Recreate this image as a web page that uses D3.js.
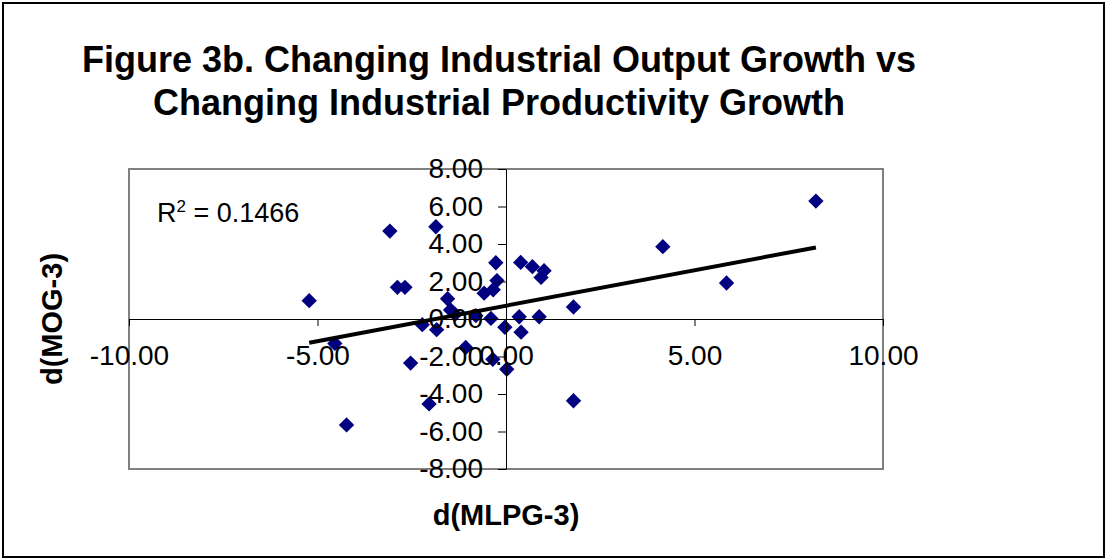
<!DOCTYPE html>
<html><head><meta charset="utf-8">
<script src="https://cdn.jsdelivr.net/npm/d3@7"></script>
<style>
body{margin:0;background:#fff}
text{font-family:"Liberation Sans",Arial,sans-serif}
</style>
</head><body>
<svg id="c" width="1107" height="559"></svg>
<script>
// ---- data ----
const xValues = [-5.22,-4.54,-4.23,-3.08,-2.88,-2.68,-2.53,-2.22,-2.04,-1.86,-1.84,-1.55,-1.47,-1.35,-1.07,-0.80,-0.58,-0.40,-0.34,-0.35,-0.27,-0.24,-0.03,0.02,0.35,0.39,0.40,0.70,0.88,0.93,1.01,1.79,1.79,4.16,5.85,8.22];
const yValues = [0.98,-1.30,-5.65,4.69,1.69,1.69,-2.35,-0.30,-4.53,4.92,-0.57,1.08,0.48,0.25,-1.52,0.18,1.38,0.03,1.56,-2.15,3.00,2.05,-0.44,-2.68,0.12,3.02,-0.70,2.79,0.12,2.22,2.58,0.64,-4.36,3.86,1.92,6.29];
const xTicks = [-10,-5,0,5,10];
const yTicks = [-8,-6,-4,-2,0,2,4,6,8];
const trendSlope = 0.378;
const trendIntercept = 0.71;
const rSquaredText = "0.1466";
const titleLines = ["Figure 3b. Changing Industrial Output Growth vs","Changing Industrial Productivity Growth"];
const xLabel = "d(MLPG-3)";
const yLabel = "d(MOG-3)";

// ---- drawing ----
const svg = d3.select("#c");
const P = {left:129, top:169, right:883, bottom:469};
const x = d3.scaleLinear().domain([-10,10]).range([P.left,P.right]);
const y = d3.scaleLinear().domain([-8,8]).range([P.bottom,P.top]);
const fmt = d => d.toFixed(2);

// outer frame
svg.append("rect").attr("x",3).attr("y",3).attr("width",1101).attr("height",554)
  .attr("fill","#fff").attr("stroke","#000").attr("stroke-width",2);

// plot area
svg.append("rect").attr("x",P.left).attr("y",P.top).attr("width",P.right-P.left).attr("height",P.bottom-P.top)
  .attr("fill","#fff").attr("stroke","#808080").attr("stroke-width",2);

// title
const title = svg.append("text").attr("text-anchor","middle")
  .attr("font-weight","bold").attr("font-size",36).attr("fill","#000");
titleLines.forEach((t,i)=>{
  title.append("tspan").attr("x",499).attr("y",72+i*43).text(t);
});

// points
const pts = xValues.map((v,i)=>({x:v,y:yValues[i]}));
const sym = d3.symbol().type(d3.symbolSquare).size(118);
svg.append("g").selectAll("path").data(pts).join("path")
  .attr("d",sym)
  .attr("transform",d=>`translate(${x(d.x)},${y(d.y)}) rotate(45)`)
  .attr("fill","#000080");

// axes
const xAxis = d3.axisBottom(x).tickValues(xTicks).tickFormat(fmt).tickSize(7).tickSizeOuter(0).tickPadding(19);
const gx = svg.append("g").attr("transform",`translate(0,${y(0)})`).call(xAxis);
const yAxis = d3.axisLeft(y).tickValues(yTicks).tickFormat(fmt).tickSize(8).tickSizeOuter(0).tickPadding(15);
const gy = svg.append("g").attr("transform",`translate(${x(0)},0)`).call(yAxis);
[gx,gy].forEach(g=>{
  g.selectAll("text").attr("font-size",28).attr("fill","#000").attr("font-family",'"Liberation Sans",Arial,sans-serif');
  g.selectAll("line").attr("stroke","#000");
  g.select(".domain").attr("stroke","#000");
});

// trendline
const xExt = d3.extent(xValues);
svg.append("line")
  .attr("x1",x(xExt[0])).attr("y1",y(trendIntercept+trendSlope*xExt[0]))
  .attr("x2",x(xExt[1])).attr("y2",y(trendIntercept+trendSlope*xExt[1]))
  .attr("stroke","#000").attr("stroke-width",4);

// R squared
const r = svg.append("text").attr("x",157).attr("y",222).attr("font-size",27).attr("fill","#000")
  .style("white-space","pre");
r.append("tspan").text("R");
r.append("tspan").attr("dy",-10).attr("font-size",17).text("2");
r.append("tspan").attr("dy",10).text(" = " + rSquaredText);

// axis titles
svg.append("text").attr("x",506).attr("y",525).attr("text-anchor","middle")
  .attr("font-weight","bold").attr("font-size",29).text(xLabel);
svg.append("text").attr("transform","translate(62,319) rotate(-90)").attr("text-anchor","middle")
  .attr("font-weight","bold").attr("font-size",29).text(yLabel);
</script>
</body></html>
